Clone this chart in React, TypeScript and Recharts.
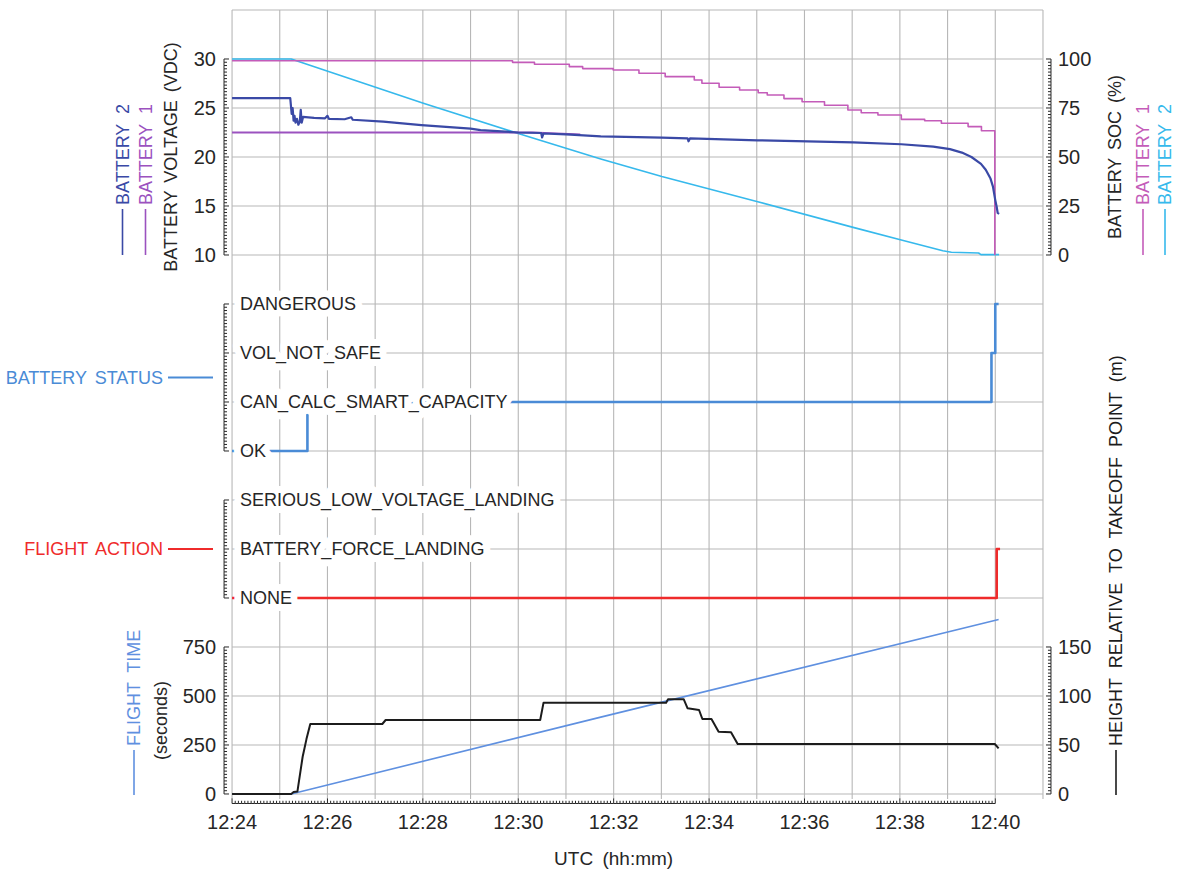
import React from 'react';
import { ComposedChart, Line, XAxis, YAxis, CartesianGrid } from 'recharts';

// ---------------- data (time = minutes after 12:24 UTC) ----------------
const X_TICK_MINUTES = [0, 2, 4, 6, 8, 10, 12, 14, 16];
const X_TICK_LABELS = ['12:24', '12:26', '12:28', '12:30', '12:32', '12:34', '12:36', '12:38', '12:40'];
const VOLT_TICK_LABELS = ['10', '15', '20', '25', '30'];
const SOC_TICK_LABELS = ['0', '25', '50', '75', '100'];
const FT_TICK_LABELS = ['0', '250', '500', '750'];
const HEIGHT_TICK_LABELS = ['0', '50', '100', '150'];
const STATUS_LEVELS = ['OK', 'CAN_CALC_SMART_CAPACITY', 'VOL_NOT_SAFE', 'DANGEROUS'];
const ACTION_LEVELS = ['NONE', 'BATTERY_FORCE_LANDING', 'SERIOUS_LOW_VOLTAGE_LANDING'];

const battery2Voltage: [number, number][] = [
  [0, 26.0], [1.22, 26.0], [1.25, 24.4], [1.27, 25.0], [1.29, 23.7], [1.31, 24.2], [1.33, 23.5],
  [1.36, 23.9], [1.39, 23.3], [1.42, 23.6], [1.44, 24.8], [1.46, 23.5], [1.49, 24.1], [1.6, 24.05],
  [1.72, 24.0], [1.95, 23.95], [2.0, 24.2], [2.03, 23.9], [2.36, 23.85], [2.5, 24.05], [2.53, 23.8],
  [3.17, 23.6], [3.97, 23.25], [5.0, 22.9], [5.21, 22.75], [6.0, 22.5], [6.48, 22.45], [6.5, 22.0],
  [6.53, 22.4], [7.0, 22.3], [7.73, 22.1], [9.01, 21.97], [9.55, 21.9], [9.57, 21.6], [9.6, 21.9],
  [11.02, 21.7], [13.02, 21.5], [14.03, 21.3], [14.7, 21.05], [15.05, 20.8], [15.3, 20.45],
  [15.5, 20.0], [15.7, 19.3], [15.8, 18.7], [15.9, 17.8], [15.95, 17.0], [16.0, 15.6], [16.03, 14.9],
  [16.05, 14.3], [16.08, 14.2],
];
const battery1Voltage: [number, number][] = [[0, 22.5], [6.3, 22.5], [7.3, 22.3]];

const battery1Soc: [number, number][] = [
  [0, 99.1], [5.88, 98.3], [6.34, 97.3], [7.07, 96.1], [7.35, 95.1], [7.99, 94.4], [8.53, 92.7],
  [9.08, 91.0], [9.69, 89.3], [9.85, 87.6], [10.21, 85.6], [10.64, 84.2], [11.03, 82.8], [11.22, 81.6],
  [11.57, 79.8], [11.95, 78.2], [12.42, 76.4], [12.91, 74.0], [13.19, 72.6], [13.54, 71.4],
  [14.03, 69.2], [14.52, 68.5], [14.87, 67.2], [15.43, 65.5], [15.71, 63.4], [15.99, 0],
];
const battery2Soc: [number, number][] = [
  [0, 100], [1.24, 100], [4.01, 77.4], [6.0, 62], [7.73, 49], [9.01, 40], [11.02, 27.2],
  [13.02, 14.1], [14.03, 7.7], [14.9, 2.2], [15.08, 1.4], [15.65, 1.0], [15.7, 0.2], [16.08, 0.2],
];

const batteryStatus: [number, number][] = [[0, 0], [1.58, 1], [15.92, 2], [16.0, 3], [16.07, 3]];
const flightAction: [number, number][] = [[0, 0], [16.03, 1], [16.1, 1]];

const flightTime: [number, number][] = [[0, 0], [1.24, 0], [7.73, 392], [16.07, 890]];
const heightRel: [number, number][] = [
  [0, 0], [1.24, 0], [1.29, 2], [1.37, 2.5], [1.48, 38], [1.52, 47], [1.56, 56], [1.64, 71.4],
  [3.15, 71.4], [3.22, 75.5], [6.46, 75.5], [6.53, 93.2], [9.1, 93.2], [9.14, 96.6], [9.47, 96.6],
  [9.55, 87.4], [9.79, 85.7], [9.86, 76.5], [10.05, 76.5], [10.2, 63.6], [10.46, 63], [10.6, 51],
  [15.99, 51], [16.07, 46.6],
];

const pts = (a: [number, number][]) => a.map(([t, v]) => ({ t, v }));

// ---------------- layout ----------------
const W = 1179, H = 869;
const PL = 232, PR = 1043, PT = 10, PB = 799;
const X_MAX = 17;
const GRID_PX = 49;
const MINOR = 15;
const MINUTE_PX = (PR - PL) / X_MAX;
const STEP_Y = GRID_PX / MINOR;
const STEP_X = MINUTE_PX / MINOR;
const AX = 0.01; // (near-zero) axis thickness so all rulers sit on the plot edge
const MARGIN = { top: PT, left: PL, right: W - PR, bottom: H - PB };
const rowY = (r: number) => PT + GRID_PX * (r + 1);

// domain such that vLow sits on grid row rLow and vHigh on row rHigh
function domainFor(vLow: number, rLow: number, vHigh: number, rHigh: number): [number, number] {
  const k = (rowY(rLow) - rowY(rHigh)) / (vHigh - vLow);
  return [vLow - (PB - rowY(rLow)) / k, vHigh + (rowY(rHigh) - PT) / k];
}
const VOLT_DOMAIN = domainFor(10, 4, 30, 0);
const SOC_DOMAIN = domainFor(0, 4, 100, 0);
const STATUS_DOMAIN = domainFor(0, 8, 3, 5);
const ACTION_DOMAIN = domainFor(0, 11, 2, 9);
const FT_DOMAIN = domainFor(0, 15, 750, 12);
const HEIGHT_DOMAIN = domainFor(0, 15, 150, 12);
const GRID_DOMAIN: [number, number] = [1 - (PB - PT) / GRID_PX, 1];
const GRID_Y_TICKS = Array.from({ length: 17 }, (_, i) => 1 - i);
const GRID_X_TICKS = Array.from({ length: X_MAX + 1 }, (_, i) => i);

function rulerTicks(lo: number, hi: number, intervals: number, per: number) {
  const n = intervals * per;
  return Array.from({ length: n + 1 }, (_, i) => lo + ((hi - lo) * i) / n);
}
const VOLT_RULER = rulerTicks(10, 30, 4, MINOR);
const SOC_RULER = rulerTicks(0, 100, 4, MINOR);
const STATUS_RULER = rulerTicks(0, 3, 3, MINOR);
const ACTION_RULER = rulerTicks(0, 2, 2, MINOR);
const FT_RULER = rulerTicks(0, 750, 3, MINOR);
const HEIGHT_RULER = rulerTicks(0, 150, 3, MINOR);
const X_RULER = rulerTicks(X_TICK_MINUTES[0], X_TICK_MINUTES[X_TICK_MINUTES.length - 1], X_TICK_MINUTES.length - 1, 2 * MINOR);

const FONT = '"Liberation Sans", Arial, Helvetica, sans-serif';
const C = {
  grid: '#b7b7b7',
  ink: '#262626',
  b2v: '#3a49a6',
  b1v: '#9b52bf',
  b1soc: '#c45cb9',
  b2soc: '#36b9ec',
  status: '#4a8bd6',
  action: '#ef2b2b',
  ft: '#5f90e0',
  height: '#1c1c1c',
};

const noTick = () => <g />;

// ---------------- ruler ticks ----------------
function leftRuler(labels: string[] | null, total: number) {
  return (p: any) => {
    const { x, y, index } = p;
    const major = index % MINOR === 0;
    const rx = x - 8;
    const label = major && labels ? labels[index / MINOR] : null;
    return (
      <g>
        {index < total - 1 && <line x1={rx} x2={rx} y1={y} y2={y - STEP_Y} stroke={C.ink} strokeWidth={1} />}
        <line x1={rx} x2={rx + (major ? 5 : 3)} y1={y} y2={y} stroke={C.ink} strokeWidth={1} />
        {label && (
          <text x={x - 16} y={y} textAnchor="end" dominantBaseline="central" fontSize={20} fontFamily={FONT} fill={C.ink}>
            {label}
          </text>
        )}
      </g>
    );
  };
}
function rightRuler(labels: string[], total: number) {
  return (p: any) => {
    const { x, y, index } = p;
    const major = index % MINOR === 0;
    const rx = x + 8;
    const label = major ? labels[index / MINOR] : null;
    return (
      <g>
        {index < total - 1 && <line x1={rx} x2={rx} y1={y} y2={y - STEP_Y} stroke={C.ink} strokeWidth={1} />}
        <line x1={rx} x2={rx - (major ? 5 : 3)} y1={y} y2={y} stroke={C.ink} strokeWidth={1} />
        {label && (
          <text x={x + 15} y={y} textAnchor="start" dominantBaseline="central" fontSize={20} fontFamily={FONT} fill={C.ink}>
            {label}
          </text>
        )}
      </g>
    );
  };
}
function bottomRuler(total: number) {
  const per = 2 * MINOR;
  return (p: any) => {
    const { x, y, index } = p;
    const major = index % per === 0;
    const ry = y + 4.5;
    const label = major ? X_TICK_LABELS[index / per] : null;
    return (
      <g>
        {index < total - 1 && <line x1={x} x2={x + STEP_X} y1={ry} y2={ry} stroke={C.ink} strokeWidth={1} />}
        <line x1={x} x2={x} y1={ry} y2={ry - (major ? 5 : 2.7)} stroke={C.ink} strokeWidth={1} />
        {label && (
          <text x={x} y={y + 23} textAnchor="middle" dominantBaseline="central" fontSize={20} fontFamily={FONT} fill={C.ink}>
            {label}
          </text>
        )}
      </g>
    );
  };
}
function categoryTick(labels: string[]) {
  return (p: any) => {
    const { x, y, index } = p;
    return (
      <text
        x={x + 8}
        y={y}
        dominantBaseline="central"
        fontSize={18}
        fontFamily={FONT}
        fill={C.ink}
        stroke="#ffffff"
        strokeWidth={14}
        strokeLinejoin="round"
        style={{ paintOrder: 'stroke' } as any}
      >
        {labels[index]}
      </text>
    );
  };
}

// ---------------- titles ----------------
function VTitle({ x, y, text, color = C.ink }: { x: number; y: number; text: string; color?: string }) {
  return (
    <text transform={`translate(${x} ${y}) rotate(-90)`} textAnchor="middle" dominantBaseline="central"
      fontSize={18} fontFamily={FONT} fill={color} wordSpacing={3}>
      {text}
    </text>
  );
}
function VLegend({ x, yBottom, text, color, len = 46 }: { x: number; yBottom: number; text: string; color: string; len?: number }) {
  return (
    <g transform={`translate(${x} ${yBottom}) rotate(-90)`}>
      <line x1={0} x2={len} y1={0} y2={0} stroke={color} strokeWidth={1.6} />
      <text x={len + 4} y={0} dominantBaseline="central" fontSize={18} fontFamily={FONT} fill={color} wordSpacing={5}>
        {text}
      </text>
    </g>
  );
}
function HLegend({ xEnd, y, text, color }: { xEnd: number; y: number; text: string; color: string }) {
  return (
    <g>
      <text x={xEnd} y={y} textAnchor="end" dominantBaseline="central" fontSize={18} fontFamily={FONT} fill={color} wordSpacing={3}>
        {text}
      </text>
      <line x1={xEnd + 5} x2={xEnd + 50} y1={y} y2={y} stroke={color} strokeWidth={2.2} />
    </g>
  );
}

const abs: React.CSSProperties = { position: 'absolute', left: 0, top: 0 };

export default function App() {
  const yAx = (id: string, domain: [number, number], ticks: number[], tick: any, orientation: 'left' | 'right' = 'left') => (
    <YAxis
      key={id}
      yAxisId={id}
      orientation={orientation}
      type="number"
      domain={domain}
      allowDataOverflow
      ticks={ticks}
      interval={0}
      width={AX}
      tickSize={0}
      tickMargin={0}
      axisLine={false}
      tickLine={false}
      tick={tick}
    />
  );
  const line = (data: [number, number][], yId: string, color: string, width: number, type: any = 'linear') => (
    <Line
      data={pts(data)}
      dataKey="v"
      xAxisId="time"
      yAxisId={yId}
      type={type}
      stroke={color}
      strokeWidth={width}
      dot={false}
      activeDot={false}
      isAnimationActive={false}
      strokeLinejoin="round"
    />
  );

  return (
    <div style={{ ...abs, width: W, height: H, background: '#fff' }}>
      <div style={abs}>
        <ComposedChart width={W} height={H} margin={MARGIN}>
          <XAxis xAxisId="grid" type="number" dataKey="t" domain={[0, X_MAX]} allowDataOverflow ticks={GRID_X_TICKS}
            interval={0} height={AX} tickSize={0} tickMargin={0} tick={noTick} axisLine={false} tickLine={false} />
          <XAxis xAxisId="time" type="number" dataKey="t" domain={[0, X_MAX]} allowDataOverflow ticks={X_RULER}
            interval={0} height={AX} tickSize={0} tickMargin={0} axisLine={false} tickLine={false}
            tick={bottomRuler(X_RULER.length)} />
          {yAx('grid', GRID_DOMAIN, GRID_Y_TICKS, noTick)}
          {yAx('volt', VOLT_DOMAIN, VOLT_RULER, leftRuler(VOLT_TICK_LABELS, VOLT_RULER.length))}
          {yAx('status', STATUS_DOMAIN, STATUS_RULER, leftRuler(null, STATUS_RULER.length))}
          {yAx('action', ACTION_DOMAIN, ACTION_RULER, leftRuler(null, ACTION_RULER.length))}
          {yAx('ft', FT_DOMAIN, FT_RULER, leftRuler(FT_TICK_LABELS, FT_RULER.length))}
          {yAx('soc', SOC_DOMAIN, SOC_RULER, rightRuler(SOC_TICK_LABELS, SOC_RULER.length), 'right')}
          {yAx('height', HEIGHT_DOMAIN, HEIGHT_RULER, rightRuler(HEIGHT_TICK_LABELS, HEIGHT_RULER.length), 'right')}
          <CartesianGrid xAxisId="grid" yAxisId="grid" stroke={C.grid} strokeWidth={1.1} syncWithTicks />
          {line(battery2Soc, 'soc', C.b2soc, 1.6)}
          {line(battery1Soc, 'soc', C.b1soc, 1.6, 'stepAfter')}
          {line(battery1Voltage, 'volt', C.b1v, 1.8)}
          {line(battery2Voltage, 'volt', C.b2v, 2.2)}
          {line(batteryStatus, 'status', C.status, 2.6, 'stepAfter')}
          {line(flightAction, 'action', C.action, 2.6, 'stepAfter')}
          {line(flightTime, 'ft', C.ft, 1.6)}
          {line(heightRel, 'height', C.height, 2)}
        </ComposedChart>
      </div>
      <div style={abs}>
        <ComposedChart width={W} height={H} margin={MARGIN}>
          <XAxis xAxisId="time" type="number" dataKey="t" domain={[0, X_MAX]} allowDataOverflow height={AX}
            tick={noTick} axisLine={false} tickLine={false} />
          {yAx('status', STATUS_DOMAIN, [0, 1, 2, 3], categoryTick(STATUS_LEVELS))}
          {yAx('action', ACTION_DOMAIN, [0, 1, 2], categoryTick(ACTION_LEVELS))}
          <Line data={pts(batteryStatus)} dataKey="v" xAxisId="time" yAxisId="status" stroke="none" dot={false}
            activeDot={false} isAnimationActive={false} />
          <Line data={pts(flightAction)} dataKey="v" xAxisId="time" yAxisId="action" stroke="none" dot={false}
            activeDot={false} isAnimationActive={false} />
        </ComposedChart>
      </div>
      <svg style={{ ...abs, pointerEvents: 'none' }} width={W} height={H}>
        <VLegend x={122.5} yBottom={rowY(4)} text="BATTERY 2" color={C.b2v} />
        <VLegend x={145.5} yBottom={rowY(4)} text="BATTERY 1" color={C.b1v} />
        <VTitle x={171} y={rowY(2)} text="BATTERY VOLTAGE (VDC)" />
        <VTitle x={1115} y={rowY(2)} text="BATTERY SOC (%)" />
        <VLegend x={1143} yBottom={rowY(4)} text="BATTERY 1" color={C.b1soc} />
        <VLegend x={1165} yBottom={rowY(4)} text="BATTERY 2" color={C.b2soc} />
        <HLegend xEnd={163} y={(rowY(5) + rowY(8)) / 2} text="BATTERY STATUS" color={C.status} />
        <HLegend xEnd={163} y={rowY(10)} text="FLIGHT ACTION" color={C.action} />
        <VLegend x={134} yBottom={795} text="FLIGHT TIME" color={C.ft} len={45} />
        <VTitle x={160.5} y={(rowY(12) + rowY(15)) / 2} text="(seconds)" />
        <VLegend x={1116} yBottom={795} text="HEIGHT RELATIVE TO TAKEOFF POINT (m)" color={C.height} len={45} />
        <text x={(PL + PL + 16 * MINUTE_PX) / 2} y={858} textAnchor="middle" dominantBaseline="central"
          fontSize={19} fontFamily={FONT} fill={C.ink} wordSpacing={4}>
          UTC (hh:mm)
        </text>
      </svg>
    </div>
  );
}
